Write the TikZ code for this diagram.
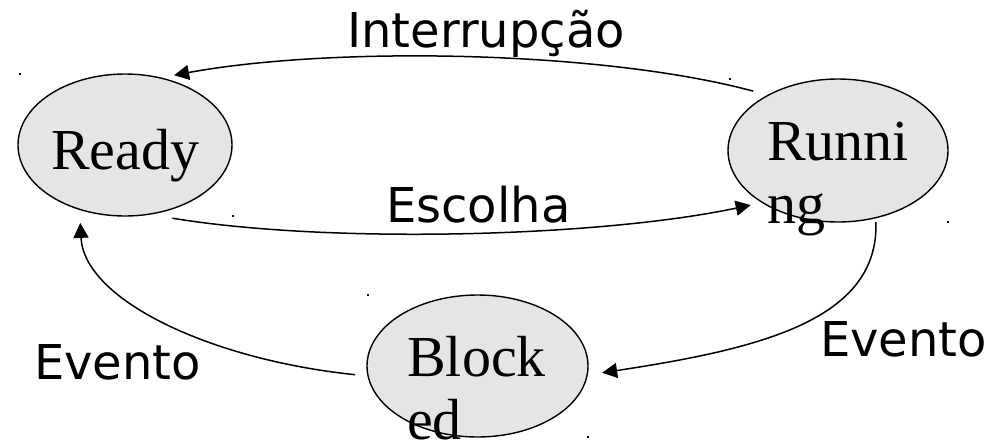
\documentclass[tikz,border=0pt]{standalone}
\usepackage{fontspec}
\setmainfont{DejaVu Sans}
\newfontfamily\statefont{Liberation Serif}
\usetikzlibrary{arrows.meta,calc,shapes.geometric}

\begin{document}
\begin{tikzpicture}[x=1pt,y=-1pt,
  state/.style={ellipse,draw=black,line width=1.4pt,fill=black!10,inner sep=0pt,outer sep=0pt},
  statetext/.style={font=\statefont\fontsize{58}{63}\selectfont,inner sep=0pt,align=left},
  edgelabel/.style={font=\fontsize{48}{56}\selectfont,inner sep=0pt},
  trans/.style={line width=1.5pt,-{Triangle[length=15pt,width=15pt]}},
  speck/.style={fill=black}]
  % page
  \fill[white] (0,0) rectangle (992,442);
  \useasboundingbox (0,0) rectangle (992,442);

  % states
  \node[state,minimum width=214pt,minimum height=142pt] (ready) at (125,145) {};
  \node[state,minimum width=220pt,minimum height=143pt] (running) at (838,150.5) {};
  \node[state,minimum width=221pt,minimum height=142pt] (blocked) at (477.5,366) {};

  % state names (base anchor of a two-line node sits on its last line)
  \node[statetext,anchor=base west] (readyname) at (51,169) {Ready};
  \node[statetext,anchor=base west] (runningname) at (767,223) {Runni\\ng};
  \node[statetext,anchor=base west] (blockedname) at (407,439) {Block\\ed};

  % transitions
  \draw[trans] ($(running.145)+(-10,-7)$) .. controls +(-153,-41) and +(157,-29) .. ($(ready.55.6)+(4,-5.4)$);
  \draw[trans] ($(ready.-57.2)+(5,8)$) .. controls +(158,26) and +(-151,32) .. ($(running.212.5)+(-8,5)$);
  \draw[trans] ($(running.-62.6)+(2,4)$) .. controls +(3,98) and +(158,-24) .. ($(blocked.-3.7)+(14.5,1)$);
  \draw[trans] ($(blocked.184.2)+(-12.6,1)$) .. controls +(-145,-15) and +(4,77) .. ($(ready.240.6)+(-6.5,11.6)$);

  % transition labels
  \node[edgelabel,anchor=base west] (lint) at (347,47) {Interrupção};
  \node[edgelabel,anchor=base west] (lesc) at (386,222) {Escolha};
  \node[edgelabel,anchor=base west] (levl) at (34,379) {Evento};
  \node[edgelabel,anchor=base west] (levr) at (820,356) {Evento};

  % stray specks at the state box corners
  \foreach \p in {(19,73),(232,215),(729,78),(947,221),(367,294),(587,436)}
    \fill[speck] \p rectangle ++(2,2);
\end{tikzpicture}
\end{document}
